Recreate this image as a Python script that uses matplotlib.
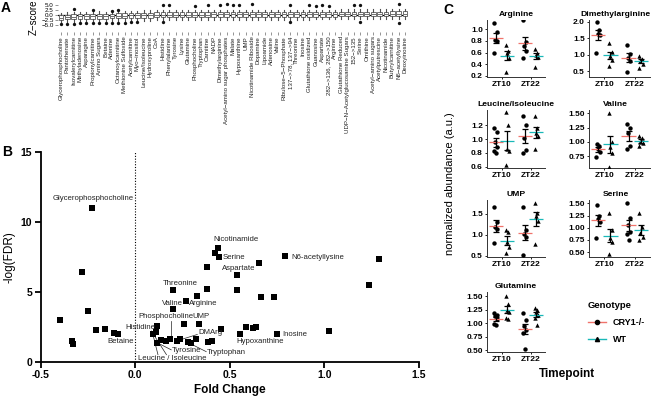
import numpy as np
import matplotlib
matplotlib.use("Agg")
import matplotlib.pyplot as plt
from matplotlib.lines import Line2D

plt.rcParams['font.family'] = ['Liberation Sans', 'DejaVu Sans']
nan = np.nan

# ---------------- Panel A data ----------------
A_NAMES = ["Glycerophosphocholine", "Pantothenate", "Isovalerylcarnitine", "Methyladenosine",
           "Asparagine", "Propionylcarnitine", "Amino Sugars", "Betaine", "Adenine",
           "Octanoylcarnitine", "Methionine Sulfoxide", "Acetylcarnitine", "Myo\u2212inositol",
           "Leucine/Isoleucine", "Hydroxyproline", "CoA", "Histidine", "Phenylalanine",
           "Tyrosine", "Lysine", "Glutamine", "Phosphocholine", "Tryptophan", "Carnitine",
           "NADP", "Dimethylarginine", "Acetyl\u2212amino sugar phosphates", "Malate",
           "Hypoxanthine", "UMP", "Nicotinamide Riboside", "Dopamine", "Lipoamide",
           "Adenosine", "Valine", "Ribulose\u22125\u2212Phosphate", "137\u2212>78, 137\u2212>94",
           "Threonine", "Inosine", "Glutathione oxidized", "Guanosine", "Aspartate",
           "282\u2212>136, 282\u2212>150", "Arginine", "Glutathione Reduced",
           "UDP\u2212N\u2212Acetylglucosamine Sugars", "152\u2212>135", "Serine", "Ornithine",
           "Acetyl\u2212amino sugars", "Acetylputrescine", "Nicotinamide", "Butyrylcarnitine",
           "N6\u2212acetyllysine", "Deoxyinosine"]
A_MED = [-1.2, -0.9, -0.8, -0.7, -0.7, -0.6, -0.5, -0.6, -0.4, -0.3,
         -0.3, -0.2, -0.1, 0.0, 0.0, 0.1, 0.1, 0.1, 0.1, 0.2,
         0.2, 0.2, 0.2, 0.2, 0.3, 0.3, 0.3, 0.3, 0.3, 0.3,
         0.3, 0.3, 0.3, 0.3, 0.4, 0.4, 0.4, 0.4, 0.4, 0.4,
         0.4, 0.4, 0.4, 0.4, 0.5, 0.5, 0.5, 0.5, 0.5, 0.5,
         0.5, 0.5, 0.6, 0.6, 0.6]
A_Q1 = [-2.4, -2.1, -2.0, -1.9, -1.9, -1.8, -1.7, -1.8, -1.6, -1.5,
        -1.5, -1.4, -1.3, -1.2, -1.2, -1.1, -1.1, -1.1, -1.1, -1.0,
        -1.0, -1.0, -1.0, -1.0, -0.9, -0.9, -0.9, -0.9, -0.9, -0.9,
        -0.9, -0.9, -0.9, -0.9, -0.8, -0.8, -0.8, -0.8, -0.8, -0.8,
        -0.8, -0.8, -0.8, -0.8, -0.7, -0.7, -0.7, -0.7, -0.7, -0.7,
        -0.7, -0.7, -0.6, -0.6, -0.6]
A_Q3 = [-0.1, 0.2, 0.3, 0.4, 0.4, 0.5, 0.6, 0.5, 0.7, 0.8,
        0.8, 0.9, 1.0, 1.1, 1.1, 1.2, 1.2, 1.2, 1.2, 1.3,
        1.3, 1.3, 1.3, 1.3, 1.4, 1.4, 1.4, 1.4, 1.4, 1.4,
        1.4, 1.4, 1.4, 1.4, 1.5, 1.5, 1.5, 1.5, 1.5, 1.5,
        1.5, 1.5, 1.5, 1.5, 1.6, 1.6, 1.6, 1.6, 1.6, 1.6,
        1.6, 1.6, 1.7, 1.7, 1.7]
A_WLO = [-3.8, -3.6, -3.5, -3.4, -3.3, -3.2, -3.2, -3.2, -3.1, -3.0,
         -3.0, -2.9, -2.8, -2.7, -2.7, -2.6, -2.6, -2.6, -2.5, -2.5,
         -2.5, -2.5, -2.4, -2.4, -2.4, -2.4, -2.4, -2.3, -2.3, -2.3,
         -2.3, -2.3, -2.2, -2.2, -2.2, -2.2, -2.2, -2.2, -2.2, -2.2,
         -2.1, -2.1, -2.1, -2.1, -2.1, -2.1, -2.1, -2.1, -2.1, -2.0,
         -2.0, -2.0, -2.0, -2.0, -2.0]
A_WHI = [1.0, 1.3, 1.5, 1.5, 1.6, 1.7, 1.7, 1.6, 1.8, 1.9,
         1.9, 2.0, 2.1, 2.2, 2.2, 2.3, 2.3, 2.3, 2.3, 2.4,
         2.4, 2.4, 2.4, 2.4, 2.5, 2.5, 2.5, 2.5, 2.5, 2.5,
         2.5, 2.5, 2.5, 2.5, 2.6, 2.6, 2.6, 2.6, 2.6, 2.6,
         2.6, 2.6, 2.6, 2.6, 2.7, 2.7, 2.7, 2.7, 2.7, 2.7,
         2.7, 2.7, 2.8, 2.8, 2.8]
A_OUT_HI = [nan, nan, 2.9, nan, nan, 2.5, nan, nan, 2.1, 2.3,
            nan, nan, nan, nan, nan, nan, 5.0, 4.9, nan, nan,
            nan, 4.5, nan, 4.7, nan, 5.0, 5.1, 4.8, 4.8, nan,
            5.4, nan, nan, nan, nan, nan, 4.6, nan, nan, 4.9,
            4.4, 4.8, 4.5, nan, nan, nan, 5.0, 4.7, nan, nan,
            nan, nan, nan, 5.4, nan]
A_OUT_LO = [-4.4, -4.2, -4.1, -4.0, -4.0, -3.9, -3.8, -3.8, -3.7, -3.7,
            -3.6, -3.5, -3.4, nan, nan, nan, -3.2, nan, nan, nan,
            nan, nan, nan, nan, nan, nan, nan, nan, nan, nan,
            nan, nan, nan, nan, nan, nan, -3.2, nan, nan, nan,
            nan, nan, nan, nan, nan, nan, nan, -3.1, nan, nan,
            nan, nan, nan, -3.6, nan]

# ---------------- Panel B data ----------------
B_FC = [-0.227, -0.28, -0.25, -0.396, -0.336, -0.33, -0.206, -0.158, -0.114, -0.093,
        0.202, 0.202, 0.267, 0.327, 0.378, 0.38, 0.436, 0.422, 0.443, 0.537,
        0.537, 0.655, 0.665, 0.731, 0.794, 1.29, 1.235, 0.114, 0.108, 0.092,
        0.258, 0.339, 0.452, 0.114, 0.138, 0.161, 0.183, 0.223, 0.235, 0.281,
        0.297, 0.322, 0.387, 0.406, 0.556, 0.586, 0.62, 0.639, 0.747, 1.024]
B_LOGFDR = [11.0, 6.45, 3.6, 3.0, 1.48, 1.3, 2.25, 2.32, 2.08, 1.96,
            5.11, 3.75, 4.33, 4.68, 5.2, 6.76, 8.14, 7.79, 7.48, 6.19,
            5.14, 7.08, 4.61, 4.61, 7.55, 7.36, 5.52, 2.58, 2.1, 1.96,
            2.72, 2.72, 2.32, 1.36, 1.53, 1.48, 1.63, 1.5, 1.65, 1.41,
            1.36, 1.65, 1.41, 1.48, 1.98, 2.46, 2.41, 2.46, 1.98, 2.2]
B_LABELS = ["Glycerophosphocholine", "Nicotinamide", "Serine", "Aspartate", "Threonine",
            "Valine", "Arginine", "Phosphocholine", "UMP", "Histidine", "DMArg", "Betaine",
            "Tyrosine", "Tryptophan", "Leucine / Isoleucine", "N6-acetyllysine", "Inosine",
            "Hypoxanthine"]

# ---------------- Panel C data ----------------
C_TITLES = ["Arginine", "Dimethylarginine", "Leucine/Isoleucine", "Valine", "UMP", "Serine",
            "Glutamine"]
C_TIMEPOINTS = ["ZT10", "ZT22"]
C_GENOTYPES = ["CRY1-/-", "WT"]
# values[panel] = [[CRY1 ZT10, WT ZT10], [CRY1 ZT22, WT ZT22]]
C_ARG = [[[1.10, 0.95, 0.82, 0.80, 0.60], [0.73, 0.62, 0.59, 0.50, 0.27]],
         [[1.16, 0.78, 0.72, 0.62, 0.50], [0.67, 0.59, 0.56, 0.53, 0.36]]]
C_DMA = [[[2.00, 1.75, 1.62, 1.58, 1.05], [1.35, 1.08, 0.95, 0.85, 0.65]],
         [[1.30, 1.03, 0.90, 0.80, 0.48], [0.97, 0.88, 0.80, 0.72, 0.60]]]
C_LEU = [[[1.16, 1.10, 0.95, 0.88, 0.82, 0.80], [1.39, 1.21, 0.85, 0.82, 0.62]],
         [[1.33, 1.20, 1.02, 0.84, 0.80], [1.33, 1.16, 1.09, 1.05, 0.85]]]
C_VAL = [[[0.97, 0.92, 0.88, 0.83, 0.74], [1.50, 1.00, 0.91, 0.80, 0.56]],
         [[1.31, 1.24, 1.15, 0.92, 0.88], [1.10, 1.06, 1.00, 0.98, 0.93]]]
C_UMP = [[[1.67, 1.30, 1.18, 1.15, 0.80], [1.12, 1.06, 0.84, 0.72, 0.58]],
         [[1.66, 1.12, 1.02, 0.95, 0.52], [1.77, 1.52, 1.46, 1.32, 0.78]]]
C_SER = [[[1.46, 1.24, 1.18, 1.12, 0.78], [1.30, 0.96, 0.78, 0.70, 0.46]],
         [[1.50, 1.20, 1.05, 0.92, 0.88, 0.75], [1.31, 1.02, 0.90, 0.82, 0.75]]]
C_GLN = [[[1.18, 1.16, 1.14, 1.08, 0.98, 0.97], [1.50, 1.36, 1.25, 1.20, 1.10, 1.08]],
         [[1.18, 1.05, 0.95, 0.88, 0.82, 0.52], [1.28, 1.24, 1.20, 1.15, 1.10, 0.96]]]
C_DATA = [C_ARG, C_DMA, C_LEU, C_VAL, C_UMP, C_SER, C_GLN]
C_YLIM = [(0.18, 1.16), (0.32, 2.05), (0.58, 1.42), (0.54, 1.56), (0.476, 1.83),
          (0.40, 1.57), (0.47, 1.574)]
C_YTICKS = [[0.2, 0.4, 0.6, 0.8, 1.0], [0.5, 1.0, 1.5, 2.0], [0.6, 0.8, 1.0, 1.2],
            [0.75, 1.00, 1.25, 1.50], [0.5, 1.0, 1.5], [0.50, 0.75, 1.00, 1.25, 1.50],
            [0.50, 0.75, 1.00, 1.25, 1.50]]
C_YFMT = ["%.1f", "%.1f", "%.1f", "%.2f", "%.1f", "%.2f", "%.2f"]

# ---------------- figure ----------------
W, H = 653, 396
fig = plt.figure(figsize=(W / 100, H / 100), dpi=100)


def add_ax(l, t, r, b):
    return fig.add_axes([l / W, 1 - b / H, (r - l) / W, (b - t) / H])


# ---- Panel A ----
axA = add_ax(57.8, 2, 408.2, 32)
stats = []
for i in range(len(A_NAMES)):
    fl = [v for v in (A_OUT_HI[i], A_OUT_LO[i]) if not np.isnan(v)]
    stats.append(dict(med=A_MED[i], q1=A_Q1[i], q3=A_Q3[i], whislo=A_WLO[i],
                      whishi=A_WHI[i], fliers=fl))
pos = np.arange(1, len(A_NAMES) + 1)
axA.axhline(0, color='black', lw=0.9, zorder=0)
axA.bxp(stats, positions=pos, widths=0.75, patch_artist=True, showcaps=False,
        manage_ticks=False,
        boxprops=dict(facecolor='white', edgecolor='#707070', lw=0.7),
        medianprops=dict(color='#707070', lw=0.7),
        whiskerprops=dict(color='#505050', lw=0.8),
        flierprops=dict(marker='o', ms=2.4, mfc='#111111', mec='none'))
axA.set_xlim(0.5, len(A_NAMES) + 0.5)
axA.set_ylim(-8.1, 6.2)
axA.set_xticks(pos)
axA.set_xticklabels(A_NAMES, rotation=90, fontsize=4.4, color='#222222')
axA.set_yticks([-5, -2.5, 0, 2.5, 5])
axA.set_yticklabels(["\u22125.0", "\u22122.5", "0.0", "2.5", "5.0"], fontsize=4.5)
axA.tick_params(axis='both', length=2, width=0.4, pad=1, color='#444444')
for s in axA.spines.values():
    s.set_visible(False)
axA.set_ylabel("Z\u2212score", fontsize=7, labelpad=2)

# ---- Panel B ----
axB = add_ax(40.7, 152.3, 419, 361.7)
axB.scatter(B_FC, B_LOGFDR, marker='s', s=18, color='black', zorder=3, linewidths=0)
axB.axvline(0, color='black', ls=(0, (1, 1.5)), lw=0.8)
axB.set_xlim(-0.5, 1.5)
axB.set_ylim(0, 15)
axB.set_xticks([-0.5, 0.0, 0.5, 1.0, 1.5])
axB.set_yticks([0, 5, 10, 15])
axB.set_xticklabels(["-0.5", "0.0", "0.5", "1.0", "1.5"])
for s in ("top", "right"):
    axB.spines[s].set_visible(False)
for s in ("left", "bottom"):
    axB.spines[s].set_linewidth(1.3)
axB.tick_params(axis='both', length=4, width=1.3, labelsize=7.5, pad=2)
for lab in axB.get_xticklabels() + axB.get_yticklabels():
    lab.set_fontweight('bold')
axB.set_xlabel("Fold Change", fontsize=8.5, fontweight='bold', labelpad=3)
axB.set_ylabel("-log(FDR)", fontsize=8.5, labelpad=4)

# label layout: (text x, text y, ha, line start, line end)
B_LAYOUT = {
    "Glycerophosphocholine": (-0.225, 11.7, 'center', None, None),
    "Nicotinamide": (0.413, 8.72, 'left', None, None),
    "Serine": (0.463, 7.45, 'left', None, None),
    "Aspartate": (0.461, 6.69, 'left', None, None),
    "Threonine": (0.145, 5.61, 'left', None, None),
    "Valine": (0.143, 4.18, 'left', None, None),
    "Arginine": (0.285, 4.18, 'left', None, None),
    "Phosphocholine": (0.016, 3.22, 'left', (0.19, 2.95), (0.19, 1.75)),
    "UMP": (0.304, 3.22, 'left', None, None),
    "Histidine": (-0.054, 2.46, 'left', (0.085, 2.2), (0.165, 0.5)),
    "DMArg": (0.331, 2.1, 'left', (0.328, 1.95), (0.245, 1.6)),
    "Betaine": (-0.145, 1.43, 'left', None, None),
    "Tyrosine": (0.193, 0.79, 'left', (0.19, 0.85), (0.125, 1.3)),
    "Tryptophan": (0.378, 0.65, 'left', (0.375, 0.72), (0.29, 1.3)),
    "Leucine / Isoleucine": (0.013, 0.24, 'left', (0.12, 0.5), (0.095, 1.85)),
    "N6-acetyllysine": (0.824, 7.48, 'left', None, None),
    "Inosine": (0.775, 1.96, 'left', None, None),
    "Hypoxanthine": (0.532, 1.48, 'left', None, None),
}
for lab in B_LABELS:
    tx, ty, ha, p0, p1 = B_LAYOUT[lab]
    axB.text(tx, ty, lab, fontsize=5.6, ha=ha, va='center', color='#222222')
    if p0 is not None:
        axB.plot([p0[0], p1[0]], [p0[1], p1[1]], color='#222222', lw=0.5)

# ---- Panel C ----
RED = '#F0736B'
CYAN = '#19B8B8'
COLS = [(487, 545), (589, 650)]
ROWS = [(20, 77), (110, 168), (200, 257), (292, 352)]
TITLE_X = [0.5, 0.44]
JIT = [-0.05, 0.04, -0.02, 0.06, -0.06, 0.02]
DODGE = [-0.2, 0.2]
MARK = ['o', '^']
MCOL = [RED, CYAN]
for k, title in enumerate(C_TITLES):
    r, c = divmod(k, 2)
    ax = add_ax(COLS[c][0], ROWS[r][0], COLS[c][1], ROWS[r][1])
    for ti in range(2):
        for g in range(2):
            vals = np.array(C_DATA[k][ti][g])
            x0 = ti + 1 + DODGE[g]
            xs = x0 + np.array(JIT[:len(vals)])
            ax.scatter(xs, vals, marker=MARK[g], s=10, color='black', linewidths=0, zorder=3)
            m = vals.mean()
            se = vals.std(ddof=1) / np.sqrt(len(vals))
            ax.hlines(m, x0 - 0.24, x0 + 0.24, color=MCOL[g], lw=0.9, zorder=4)
            ax.errorbar(x0, m, yerr=se, color='black', capsize=2.2, lw=0.9,
                        capthick=0.9, zorder=5)
    ax.set_xlim(0.5, 2.5)
    ax.set_ylim(*C_YLIM[k])
    ax.set_xticks([1, 2])
    ax.set_xticklabels(C_TIMEPOINTS)
    ax.set_yticks(C_YTICKS[k])
    ax.set_yticklabels([C_YFMT[k] % v for v in C_YTICKS[k]])
    for s in ("top", "right"):
        ax.spines[s].set_visible(False)
    for s in ("left", "bottom"):
        ax.spines[s].set_linewidth(0.7)
        ax.spines[s].set_color('#333333')
    ax.tick_params(axis='both', length=1.5, width=0.6, labelsize=6, pad=1.5)
    for lab in ax.get_xticklabels() + ax.get_yticklabels():
        lab.set_fontweight('bold')
    ax.set_title(title, fontsize=6.1, fontweight='bold', pad=3, x=TITLE_X[c])

handles = [Line2D([0], [0], color=RED, lw=1, marker='o', mfc='black', mec='black', ms=3),
           Line2D([0], [0], color=CYAN, lw=1, marker='^', mfc='black', mec='black', ms=3)]
leg = fig.legend(handles, C_GENOTYPES, title="Genotype", loc='upper left',
                 bbox_to_anchor=(584 / W, 1 - 297 / H), frameon=False, fontsize=6.5,
                 title_fontsize=6.8, handlelength=2.0, labelspacing=0.9,
                 alignment='left', borderaxespad=0)
plt.setp(leg.get_texts(), fontweight='bold')
leg.get_title().set_fontweight('bold')

fig.text(450 / W, 1 - 184 / H, "normalized abundance (a.u.)", rotation=90,
         ha='center', va='center', fontsize=8)
fig.text(567 / W, 1 - 374 / H, "Timepoint", ha='center', va='center', fontsize=8.5,
         fontweight='bold')

fig.text(6 / W, 1 - 8 / H, "A", fontsize=10, fontweight='bold', ha='center', va='center')
fig.text(7 / W, 1 - 152 / H, "B", fontsize=10, fontweight='bold', ha='center', va='center')
fig.text(448 / W, 1 - 10 / H, "C", fontsize=10, fontweight='bold', ha='center', va='center')

fig.savefig("out.png", dpi=100)
